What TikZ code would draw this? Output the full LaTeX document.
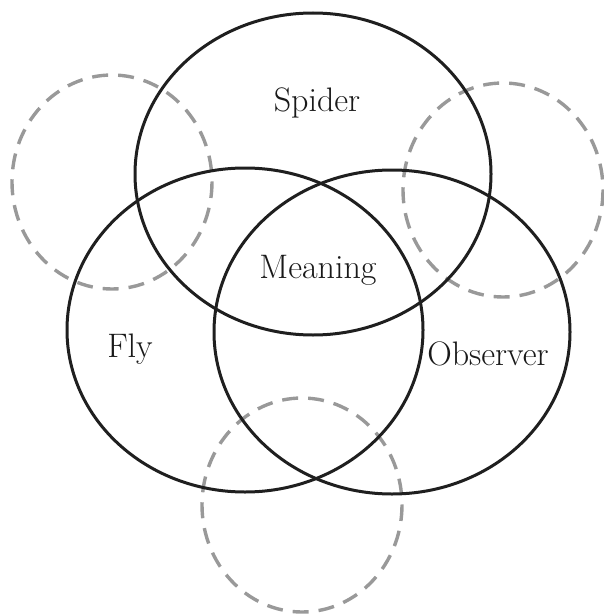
\documentclass[tikz,border=0pt]{standalone}
\usetikzlibrary{positioning}
\tikzset{
  set/.style   = {draw=black!88, line width=3pt},
  ghost/.style = {draw=black!40, line width=3.4pt, dash pattern=on 16pt off 10pt},
  lbl/.style   = {font=\rmfamily\fontsize{34}{40}\selectfont, text=black!90,
                  inner sep=0pt, anchor=base},
}

\begin{document}
\begin{tikzpicture}[x=1pt, y=-1pt]
    \useasboundingbox (0,0) rectangle (604,615);

    % dashed outer circles
    \draw[ghost] (112,182) ellipse (100 and 107);
    \draw[ghost] (503,190) ellipse (100 and 107);
    \draw[ghost] (302,505) ellipse (100 and 107);

    % the three sets
    \draw[set] (313,174) ellipse (178 and 161);
    \draw[set] (245,330) ellipse (178 and 162);
    \draw[set] (392,332) ellipse (178 and 162);

    \node[lbl] (spider)   at (317,112) {Spider};
    \node[lbl] (meaning)  at (318,278) {Meaning};
    \node[lbl] (fly)      at (130,357) {Fly};
    \node[lbl] (observer) at (488,365) {Observer};
  \end{tikzpicture}
\end{document}
